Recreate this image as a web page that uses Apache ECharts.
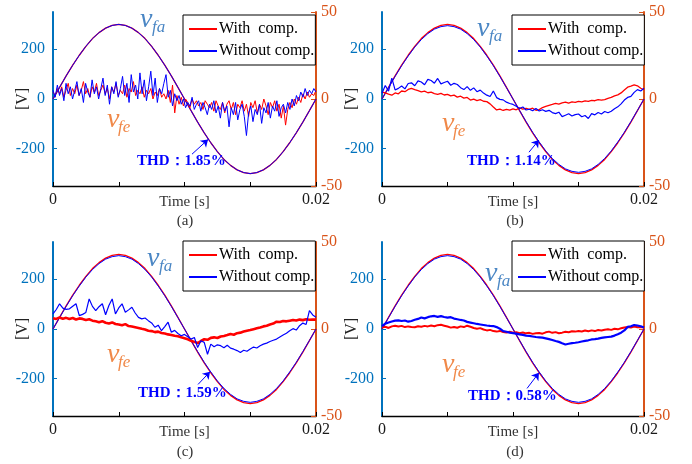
<!DOCTYPE html>
<html><head><meta charset="utf-8">
<script src="https://cdn.jsdelivr.net/npm/echarts@6/dist/echarts.min.js"></script>
<style>html,body{margin:0;padding:0;background:#fff}#c{width:692px;height:464px}</style>
</head><body><div id="c"></div><script>
// ---------------- data ----------------
const T_END = 0.02;
const xTickLabels = ['0', '0.02'];
const leftTicks = [-200, 0, 200];
const rightTicks = [-50, 0, 50];
const seriesNames = ['With  comp.', 'Without comp.'];
const panelLabels = ['(a)', '(b)', '(c)', '(d)'];
const thdLabels = ['THD\uFF1A1.85%', 'THD\uFF1A1.14%', 'THD\uFF1A1.59%', 'THD\uFF1A0.58%'];

// v_fa (left axis, V), 41 samples over one period
const vfaWith = [0, 47, 93, 136, 176, 212, 243, 267, 285, 296, 300, 296, 285, 267, 243, 212, 176, 136, 93, 47, 0,
  -47, -93, -136, -176, -212, -243, -267, -285, -296, -300, -296, -285, -267, -243, -212, -176, -136, -93, -47, 0];
const vfaWithout = [0, 46, 91, 134, 173, 209, 239, 263, 281, 291, 295, 291, 281, 263, 239, 209, 173, 134, 91, 46, 0,
  -46, -91, -134, -173, -209, -239, -263, -281, -291, -295, -291, -281, -263, -239, -209, -173, -134, -91, -46, 0];

// v_fe (right axis, V)
const vfeWithA = [4, 2, 6, 3, 7, 1, 5, 9, 2, 6, 3,
  8, 2, 5, 10, 3, 6, 1, 7, 4, 9,
  2, 5, 8, 3, 6, 0, 7, 4, 9, 2,
  5, 3, 8, 1, 6, 4, 10, 2, 5, 3,
  7, 1, 5, 3, 6, 0, 4, 2, 6, 1,
  3, 0, 5, -2, 8, -8, 2, -3, 1, -4, 0,
  -2, -5, 0, -3, -1, -4, -2, -6, -1, -3,
  -5, -2, -7, -1, -4, -6, -2, -8, -3, -1,
  -6, -2, -9, -3, -5, -1, -7, -3, -10, -2,
  -5, -1, -8, -3, -6, 0, -4, -9, -2, -5,
  -1, -7, -3, -11, -4, -15, -6, -2, -5, 0,
  -3, 1, -2, 3, 0, 4, 1, 3, 2, 5];
const vfeWithoutA = [5, 1, 8, 2, 6, -1, 9, 3, 7, 0, 5,
  10, 2, 6, -2, 9, 4, 1, 11, 3, 7,
  0, 6, 12, 2, 8, -3, 7, 3, 10, 1,
  6, 13, 2, 9, -2, 14, 4, 8, 0, 15,
  3, 11, -1, 7, 16, 2, 12, -2, 6, 3,
  9, 14, 1, 5, -4, 3, -1, 2, -3, 0, -5,
  -2, -4, 1, -6, -3, -1, -7, -2, -5, -9,
  -3, -6, -1, -8, -4, -11, -2, -7, -4, -16,
  -5, -9, -2, -12, -6, -3, -10, -21, -8, -4,
  -13, -6, -9, -3, -14, -5, -8, -2, -11, -4,
  -7, -1, -10, -5, -3, -8, -2, -6, 0, -4,
  2, -1, 4, 1, 6, 2, 5, 3, 6, 4];

const vfeWithB = [4, 3.5, 2.8, 2.2, 3.5, 3, 4.6, 4.2, 5.5, 6.1,
  5.4, 4.8, 4.1, 4.5, 3.6, 3.9, 3.1, 2.6, 3.2, 2.3,
  2.7, 1.8, 2.2, 1.1, 1.6, 0.5, 0.9, -0.6, -0.1, -0.9,
  -0.4, -1.3, -1.5, -2.8, -4.6, -6.3, -5.8, -6.6, -5.9, -6.4,
  -5.7, -6.2, -5.1, -5.8, -5.4, -6.0, -5.3, -6.5, -6.1, -4.9,
  -4.2, -3.6, -3.1, -2.5, -2.9, -2.2, -1.8, -2.4, -1.7, -1.9,
  -1.3, -1.7, -1.1, -1.4, -0.8, -1.0, -0.4, -0.7, -0.3, 0.4,
  0.9, 1.8, 2.4, 3.5, 5.2, 6.8, 7.4, 8.1, 7.6, 6.2, 5.3];
const vfeWithoutB = [3.3, 7.8, 4.5, 12.0, 5.2, 6.1, 7.5, 5.8, 8.9, 9.3,
  7.6, 10.4, 9.8, 8.2, 11.3, 10.6, 9.1, 11.8, 8.7, 9.5,
  10.2, 7.9, 9.0, 8.3, 6.5, 5.4, 7.1, 5.0, 6.4, 4.2,
  5.1, 3.4, 2.2, 1.4, 4.6, 0.8, -0.2, -0.5, -1.8, -2.6,
  -3.1, -4.2, -5.5, -4.6, -6.3, -5.9, -6.8, -5.5, -6.9, -6.2,
  -7.1, -6.5, -7.8, -8.4, -7.6, -10.1, -9.3, -8.5, -9.8, -9.0,
  -8.6, -10.2, -9.5, -11.2, -8.4, -9.1, -7.8, -8.6, -7.2, -7.9,
  -7.0, -5.6, -4.5, -2.8, -0.6, 0.9, 1.5, 3.8, 5.4, 4.6, 6.2];

const vfeWithC = [6.2, 5.8, 6.6, 5.9, 6.4, 5.7, 6.3, 5.5, 6.1, 5.8,
  5.2, 5.6, 4.8, 4.4, 3.9, 4.5, 3.6, 3.2, 3.8, 2.9,
  2.6, 2.2, 2.8, 1.7, 1.4, 1.0, 0.6, 0.1, -0.3, -1.0,
  -1.2, -1.8, -1.5, -2.3, -2.6, -3.1, -3.4, -3.9, -4.2, -4.8,
  -5.3, -5.9, -6.8, -7.4, -8.1, -6.9, -5.9, -6.2, -5.1, -4.8,
  -5.2, -4.3, -4.0, -3.5, -2.9, -3.3, -2.4, -2.1, -1.5, -1.0,
  -0.6, -0.1, 0.4, 0.9, 1.5, 1.9, 2.6, 3.1, 4.2, 4.0,
  4.6, 4.4, 4.8, 5.2, 4.9, 5.4, 5.1, 5.6, 5.3, 5.5, 5.4];
const vfeWithoutC = [8.7, 11.2, 14.5, 12.0, 11.3, 11.6, 13.1, 14.5, 7.7, 8.4,
  9.5, 17.3, 13.0, 10.6, 12.8, 14.5, 8.2, 13.5, 17.3, 8.7,
  12.1, 14.5, 9.6, 11.0, 12.5, 9.2, 6.7, 5.8, 6.3, 4.8,
  3.5, 1.0, 2.2, -1.0, 1.4, 3.9, -1.9, -0.8, -2.6, -3.9,
  -3.1, -4.5, -5.8, -4.9, -10.6, -6.8, -7.7, -14.5, -8.7, -10.2,
  -9.1, -9.6, -10.8, -9.3, -11.0, -11.6, -12.4, -13.5, -12.2, -12.8,
  -11.5, -10.4, -10.9, -9.6, -8.7, -8.1, -7.2, -6.5, -5.8, -4.6,
  -3.5, -2.4, -1.0, 0.2, -0.6, 1.9, 3.4, 2.6, 10.6, 8.1, 6.7];

const vfeWithD = [0.8, 1.3, 0.6, 1.5, 1.9, 1.4, 1.8, 1.1, 1.5, 1.2,
  1.0, 1.6, 1.3, 1.8, 1.5, 2.0, 1.6, 2.2, 2.4, 1.9,
  1.4, 0.8, 1.2, 0.7, 1.5, 1.1, 1.9, 1.3, 0.6, 0.2,
  0.5, -0.3, -0.8, -0.5, -1.2, -1.5, -1.1, -1.7, -2.0, -1.6,
  -2.1, -1.8, -2.4, -2.0, -2.5, -2.2, -2.8, -2.5, -2.3, -2.7,
  -1.9, -1.5, -2.2, -1.8, -2.4, -2.1, -1.6, -1.9, -1.3, -1.5,
  -1.1, -1.4, -0.9, -1.3, -0.8, -1.2, -0.6, -0.9, -0.4, -0.2,
  -0.5, 0.1, -0.2, 0.4, 0.9, 1.2, 0.8, 1.4, 1.0, 1.2, 0.8];
const vfeWithoutD = [1.7, 3.1, 3.7, 4.3, 4.8, 5.0, 4.6, 4.9, 4.2, 4.6,
  5.3, 5.8, 6.6, 6.1, 6.8, 7.3, 7.5, 7.0, 7.4, 6.9,
  6.5, 6.8, 6.0, 5.6, 5.2, 4.9, 4.1, 3.7, 3.3, 2.9,
  2.6, 2.3, 2.0, 1.8, 1.7, 1.1, 0.2, -1.2, -1.6, -2.1,
  -2.4, -2.7, -3.1, -3.4, -3.8, -4.0, -4.3, -4.6, -4.8, -5.0,
  -5.4, -5.8, -6.3, -6.9, -7.4, -8.2, -8.9, -8.5, -8.1, -7.9,
  -7.6, -7.2, -6.8, -6.5, -6.0, -5.8, -5.5, -5.1, -4.8, -4.6,
  -4.4, -3.8, -3.0, -2.1, -0.8, 1.2, 1.6, 2.3, 2.0, 1.6, 0.8];

// THD arrow endpoints (time [s], V on left axis)
const arrowA = [[0.01057, -222], [0.01179, -163]];
const arrowB = [[0.01122, -214], [0.01198, -165]];
const arrowC = [[0.01103, -223], [0.01194, -172]];
const arrowD = [[0.01107, -239], [0.01198, -176]];

// ---------------- layout / style ----------------
const FONT = '"Liberation Serif", "Times New Roman", serif';
const BLUE_AX = '#0072BD', ORANGE_AX = '#D95319';
const panels = [
  {box: [53, 12, 263, 174], vfa: [vfaWith, vfaWith], vfe: [vfeWithA, vfeWithoutA], arrow: arrowA,
   legend: [183, 15], fa: [140, 28], fe: [107, 128], thd: [137, 161], lab: [185, 221], redW: 1, blueW: 1},
  {box: [382, 12, 262, 174], vfa: [vfaWith, vfaWithout], vfe: [vfeWithB, vfeWithoutB], arrow: arrowB,
   legend: [512, 15], fa: [477, 37], fe: [442, 132], thd: [467, 161], lab: [515, 221], redW: 1.3, blueW: 1.2},
  {box: [53, 242, 263, 174], vfa: [vfaWith, vfaWithout], vfe: [vfeWithC, vfeWithoutC], arrow: arrowC,
   legend: [183, 241], fa: [147, 267], fe: [107, 363], thd: [138, 393], lab: [185, 452], redW: 2.6, blueW: 1.2},
  {box: [382, 242, 262, 174], vfa: [vfaWith, vfaWithout], vfe: [vfeWithD, vfeWithoutD], arrow: arrowD,
   legend: [512, 241], fa: [485, 282], fe: [442, 373], thd: [468, 396], lab: [515, 452], redW: 2, blueW: 2.2}
];

function toPairs(arr) {
  const n = arr.length - 1;
  return arr.map((v, i) => [i * T_END / n, v]);
}

const grids = [], xAxes = [], yAxes = [], series = [], legends = [], graphics = [];
panels.forEach((p, i) => {
  grids.push({left: p.box[0], top: p.box[1], width: p.box[2], height: p.box[3],
    containLabel: false, outerBoundsMode: 'none'});
  xAxes.push({
    gridIndex: i, type: 'value', min: 0, max: T_END, interval: 0.005,
    axisLine: {onZero: false, lineStyle: {color: '#000', width: 1.3}},
    axisTick: {inside: true, length: 4, lineStyle: {color: '#000'}},
    axisLabel: {
      formatter: v => (v === 0 ? xTickLabels[0] : (Math.abs(v - T_END) < 1e-9 ? xTickLabels[1] : '')),
      color: '#1a1a1a', fontFamily: FONT, fontSize: 16, margin: 6, showMinLabel: true, showMaxLabel: true
    },
    splitLine: {show: false},
    name: 'Time [s]', nameLocation: 'middle', nameGap: 9, nameMoveOverlap: false,
    nameTextStyle: {color: '#333', fontFamily: FONT, fontSize: 15}
  });
  yAxes.push({
    gridIndex: i, type: 'value', position: 'left', min: -350, max: 350,
    axisLine: {show: true, onZero: false, lineStyle: {color: BLUE_AX, width: 2}},
    axisTick: {show: true, inside: true, length: 4, customValues: leftTicks, lineStyle: {color: BLUE_AX}},
    axisLabel: {customValues: leftTicks, color: BLUE_AX, fontFamily: FONT, fontSize: 16, margin: 8},
    splitLine: {show: false},
    name: '[V]', nameLocation: 'middle', nameGap: 22, nameRotate: 90, nameMoveOverlap: false,
    nameTextStyle: {color: '#222', fontFamily: FONT, fontSize: 16}
  });
  yAxes.push({
    gridIndex: i, type: 'value', position: 'right', min: -50, max: 50, interval: 50,
    axisLine: {show: true, onZero: false, lineStyle: {color: ORANGE_AX, width: 2}},
    axisTick: {show: true, inside: true, length: 5, customValues: rightTicks, lineStyle: {color: ORANGE_AX}},
    axisLabel: {customValues: rightTicks, color: ORANGE_AX, fontFamily: FONT, fontSize: 16, margin: 5},
    splitLine: {show: false}
  });
  const base = {type: 'line', xAxisIndex: i, showSymbol: false, symbol: 'none', silent: true, animation: false};
  series.push(Object.assign({}, base, {name: seriesNames[0], yAxisIndex: 2 * i, data: toPairs(p.vfa[0]),
    lineStyle: {color: '#FF0000', width: 1.3}, itemStyle: {color: '#FF0000'}, z: 2}));
  series.push(Object.assign({}, base, {name: seriesNames[1], yAxisIndex: 2 * i, data: toPairs(p.vfa[1]),
    lineStyle: {color: '#0000FF', width: 1}, itemStyle: {color: '#0000FF'}, z: 3,
    markLine: {silent: true, symbol: ['none', 'arrow'], symbolSize: 7, animation: false,
      lineStyle: {color: '#0000FF', width: 1, type: 'solid'}, label: {show: false},
      data: [[{coord: p.arrow[0]}, {coord: p.arrow[1]}]]}}));
  series.push(Object.assign({}, base, {name: seriesNames[0], yAxisIndex: 2 * i + 1, data: toPairs(p.vfe[0]),
    lineStyle: {color: '#FF0000', width: p.redW}, itemStyle: {color: '#FF0000'}, z: 4}));
  series.push(Object.assign({}, base, {name: seriesNames[1], yAxisIndex: 2 * i + 1, data: toPairs(p.vfe[1]),
    lineStyle: {color: '#0000FF', width: p.blueW}, itemStyle: {color: '#0000FF'}, z: 5}));
  legends.push({
    data: seriesNames, left: p.legend[0], top: p.legend[1], orient: 'vertical',
    icon: 'rect', itemWidth: 28, itemHeight: 2, itemGap: 6, padding: [6, 1, 6, 6],
    borderColor: '#000', borderWidth: 1, backgroundColor: '#fff', selectedMode: false,
    textStyle: {fontFamily: FONT, fontSize: 16, color: '#000', lineHeight: 16, padding: [0, 0, 0, -3]}
  });
  const it = (x, y, text, size, fill) => ({type: 'text', z: 10, silent: true,
    style: {x: x, y: y, text: text, fill: fill, font: 'italic ' + size + 'px ' + FONT,
      textAlign: 'left', textVerticalAlign: 'bottom'}});
  graphics.push(it(p.fa[0], p.fa[1] + 6, 'v', 28, '#4A86C4'));
  graphics.push(it(p.fa[0] + 12, p.fa[1] + 8, 'fa', 17, '#4A86C4'));
  graphics.push(it(p.fe[0], p.fe[1] + 6, 'v', 28, '#F08848'));
  graphics.push(it(p.fe[0] + 11, p.fe[1] + 8, 'fe', 17, '#F08848'));
  graphics.push({type: 'text', z: 10, silent: true,
    style: {x: p.thd[0], y: p.thd[1], text: thdLabels[i], fill: '#0000FF',
      font: 'bold 15px ' + FONT, textAlign: 'left', textVerticalAlign: 'middle'}});
  graphics.push({type: 'text', z: 10, silent: true,
    style: {x: p.lab[0], y: p.lab[1], text: panelLabels[i], fill: '#333',
      font: '15px ' + FONT, textAlign: 'center', textVerticalAlign: 'middle'}});
});

const chart = echarts.init(document.getElementById('c'), null, {renderer: 'canvas'});
chart.setOption({
  animation: false,
  backgroundColor: '#fff',
  grid: grids, xAxis: xAxes, yAxis: yAxes, series: series, legend: legends, graphic: graphics
});
</script></body></html>
